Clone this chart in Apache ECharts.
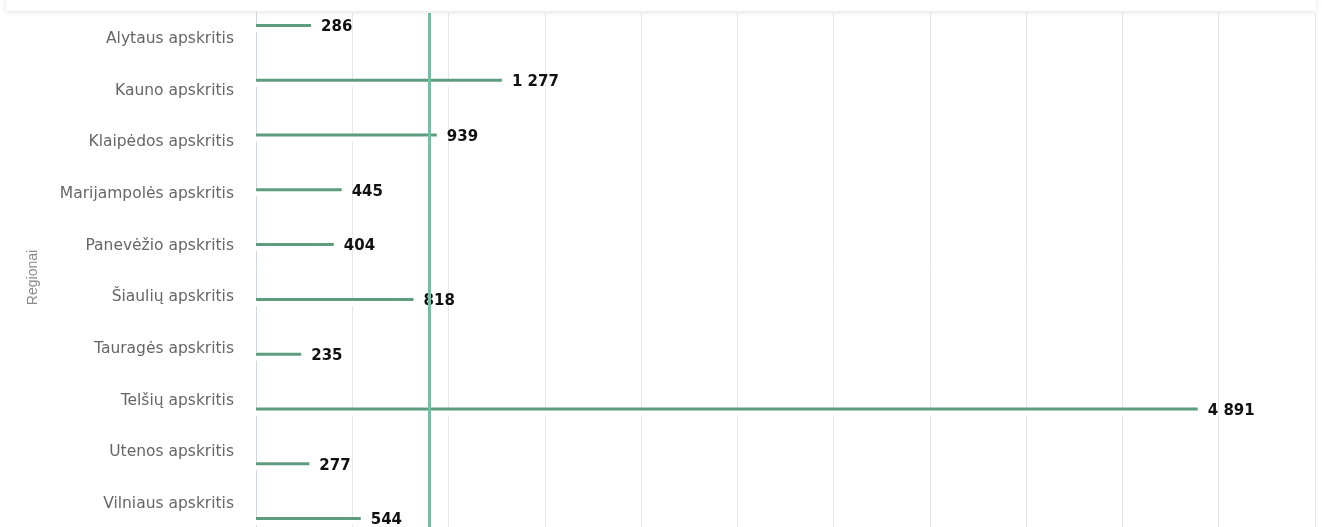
<!DOCTYPE html>
<html>
<head>
<meta charset="utf-8">
<script src="https://cdn.jsdelivr.net/npm/echarts@6/dist/echarts.min.js"></script>
<style>
  html, body { margin: 0; padding: 0; background: #fff; }
  #chart { width: 1322px; height: 527px; }
</style>
</head>
<body>
<div id="chart"></div>
<script>
// regions and counts
const regions = [
  'Alytaus apskritis', 'Kauno apskritis', 'Klaipėdos apskritis', 'Marijampolės apskritis',
  'Panevėžio apskritis', 'Šiaulių apskritis', 'Tauragės apskritis', 'Telšių apskritis',
  'Utenos apskritis', 'Vilniaus apskritis'
];
const counts = [286, 1277, 939, 445, 404, 818, 235, 4891, 277, 544];
const referenceValue = 900;
const axisMax = 5500;
const axisStep = 500;
const axisTitle = 'Regionai';

function fmt(v) {
  return String(v).replace(/\B(?=(\d{3})+(?!\d))/g, ' ');
}

const chart = echarts.init(document.getElementById('chart'));
chart.setOption({
  animation: false,
  textStyle: { fontFamily: 'DejaVu Sans' },
  graphic: [{
    type: 'rect',
    shape: { x: 6, y: -30, width: 1310, height: 41 },
    style: { fill: '#fff', shadowBlur: 5, shadowColor: 'rgba(0,0,0,0.12)', shadowOffsetY: 1 },
    z: 100
  }],
  grid: [
    { left: 256, right: 7, top: 13, height: 517, outerBoundsMode: 'none' },
    { left: 256, right: 7, top: -2, height: 548, outerBoundsMode: 'none' }
  ],
  xAxis: [
    {
      gridIndex: 0, type: 'value', min: 0, max: axisMax, interval: axisStep,
      axisLabel: { show: false }, axisLine: { show: false }, axisTick: { show: false },
      splitLine: { lineStyle: { color: '#e6e6e6', width: 1 } }
    },
    {
      gridIndex: 1, type: 'value', min: 0, max: axisMax, interval: axisStep, show: false
    }
  ],
  yAxis: [
    {
      gridIndex: 0, type: 'category', inverse: true, data: regions,
      axisLine: { lineStyle: { color: '#ccd6eb' } },
      axisTick: { show: false },
      axisLabel: { color: '#666', fontSize: 15.5, margin: 22, fontFamily: 'DejaVu Sans', padding: [7, 0, 0, 0] },
      name: axisTitle, nameLocation: 'middle', nameRotate: 90, nameGap: 216,
      nameTextStyle: { color: '#8a8a8a', fontSize: 14, fontFamily: 'Liberation Sans', padding: [0, 12, 0, 0] }
    },
    {
      gridIndex: 1, type: 'category', inverse: true, data: regions, show: false
    }
  ],
  series: [
    {
      type: 'bar', xAxisIndex: 0, yAxisIndex: 0, data: [], z: 1,
      markLine: {
        silent: true, symbol: 'none', label: { show: false },
        lineStyle: { color: '#6cc2a2', width: 3, type: 'solid' },
        data: [{ xAxis: referenceValue }]
      }
    },
    {
      type: 'bar', xAxisIndex: 1, yAxisIndex: 1, data: counts, barWidth: 8, z: 3,
      itemStyle: { color: '#fff' }, silent: true
    },
    {
      type: 'bar', xAxisIndex: 1, yAxisIndex: 1, data: counts, barWidth: 3, barGap: '-100%', z: 4,
      itemStyle: { color: '#5e9c80' },
      label: {
        show: true, position: 'right', distance: 10, offset: [0, 2],
        color: '#111', fontWeight: 'bold', fontSize: 15, fontFamily: 'DejaVu Sans',
        formatter: p => fmt(p.value)
      }
    }
  ]
});
</script>
</body>
</html>
